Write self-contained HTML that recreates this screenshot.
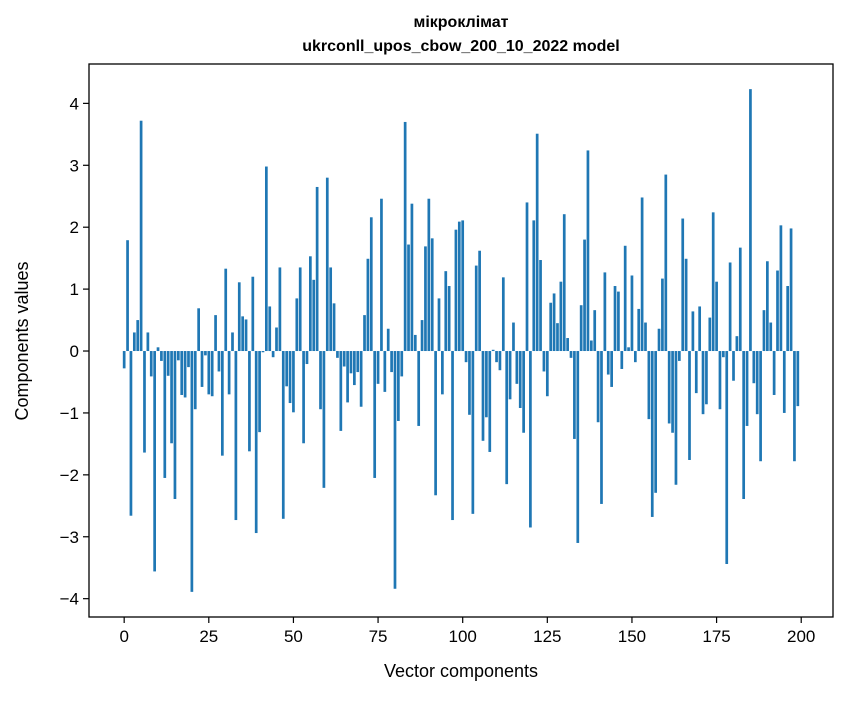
<!DOCTYPE html>
<html><head><meta charset="utf-8"><style>
body{margin:0;background:#fff;}
svg text{font-family:"Liberation Sans","DejaVu Sans",sans-serif;fill:#000;}
</style></head><body>
<svg id="chart" width="847" height="696" viewBox="0 0 847 696" xmlns="http://www.w3.org/2000/svg">
<rect width="847" height="696" fill="#fff"/>
<text x="461" y="27" text-anchor="middle" font-size="16" font-weight="bold">мікроклімат</text>
<text x="461" y="51" text-anchor="middle" font-size="16" font-weight="bold">ukrconll_upos_cbow_200_10_2022 model</text>
<g id="bars"></g>
<g id="axes"></g>
<text x="461" y="677" text-anchor="middle" font-size="18">Vector components</text>
<text x="28" y="341" text-anchor="middle" font-size="18" transform="rotate(-90 28 341)">Components values</text>
</svg>
<script>
const values = [-0.28,1.79,-2.66,0.30,0.50,3.72,-1.64,0.30,-0.41,-3.56,
0.06,-0.16,-2.05,-0.40,-1.49,-2.39,-0.15,-0.71,-0.75,-0.26,
-3.89,-0.94,0.69,-0.58,-0.07,-0.70,-0.73,0.58,-0.33,-1.69,
1.33,-0.70,0.30,-2.73,1.11,0.56,0.51,-1.62,1.20,-2.94,
-1.31,-0.02,2.98,0.72,-0.10,0.38,1.35,-2.71,-0.57,-0.84,
-0.99,0.85,1.35,-1.49,-0.21,1.53,1.15,2.65,-0.94,-2.21,
2.80,1.35,0.77,-0.11,-1.29,-0.25,-0.83,-0.36,-0.55,-0.34,
-0.90,0.58,1.49,2.16,-2.05,-0.53,2.46,-0.66,0.36,-0.34,
-3.84,-1.13,-0.41,3.70,1.72,2.38,0.26,-1.21,0.50,1.69,
2.46,1.82,-2.33,0.85,-0.70,1.29,1.05,-2.73,1.96,2.09,
2.11,-0.18,-1.03,-2.63,1.38,1.62,-1.45,-1.07,-1.63,0.02,
-0.18,-0.31,1.19,-2.15,-0.78,0.46,-0.53,-0.92,-1.32,2.40,
-2.85,2.11,3.51,1.47,-0.33,-0.73,0.78,0.93,0.45,1.12,
2.21,0.21,-0.11,-1.42,-3.10,0.74,1.80,3.24,0.17,0.66,
-1.15,-2.47,1.27,-0.38,-0.58,1.05,0.96,-0.29,1.70,0.06,
1.22,-0.18,0.68,2.48,0.46,-1.10,-2.68,-2.29,0.36,1.17,
2.85,-1.17,-1.32,-2.16,-0.16,2.14,1.49,-1.76,0.64,-0.68,
0.72,-1.02,-0.86,0.54,2.24,1.12,-0.94,-0.10,-3.44,1.43,
-0.48,0.24,1.67,-2.39,-1.21,4.23,-0.52,-1.02,-1.78,0.66,
1.45,0.46,-0.71,1.30,2.03,-1.00,1.05,1.98,-1.78,-0.89];
const xTicks = [0,25,50,75,100,125,150,175,200];
const yTicks = [-4,-3,-2,-1,0,1,2,3,4];

const NS="http://www.w3.org/2000/svg";
const L=89,R=833,T=64,B=617;
const n=values.length;
const xmin=-0.4, xmax=n-1+0.4, xpad=(xmax-xmin)*0.05;
const ymn=Math.min(...values), ymx=Math.max(...values), ypad=(ymx-ymn)*0.05;
const x0=xmin-xpad, x1=xmax+xpad, y0=ymn-ypad, y1=ymx+ypad;
const sx=v=>L+(v-x0)/(x1-x0)*(R-L);
const sy=v=>B-(v-y0)/(y1-y0)*(B-T);
function mk(tag,attrs,parent){const e=document.createElementNS(NS,tag);for(const k in attrs)e.setAttribute(k,attrs[k]);parent.appendChild(e);return e;}
const bars=document.getElementById('bars');
values.forEach((v,i)=>{
  const a=sx(i-0.4), b=sx(i+0.4);
  const ya=sy(Math.max(v,0)), yb=sy(Math.min(v,0));
  const r=mk('rect',{x:a,y:ya,width:b-a,height:Math.max(yb-ya,0.01),fill:'#1f77b4'},bars);
  
  
});
const ax=document.getElementById('axes');
const fr=mk('rect',{x:L,y:T,width:R-L,height:B-T,fill:'none',stroke:'#000','stroke-width':1.3},ax);


xTicks.forEach(t=>{
  const x=sx(t);
  const l=mk('line',{x1:x,x2:x,y1:B,y2:B+6,stroke:'#000','stroke-width':1.2},ax);
  
  
  const tx=mk('text',{x:x,y:B+25,'text-anchor':'middle','font-size':'17'},ax);
  tx.textContent=String(t);
  
  
});
yTicks.forEach(t=>{
  const y=sy(t);
  const l=mk('line',{x1:L-6,x2:L,y1:y,y2:y,stroke:'#000','stroke-width':1.2},ax);
  
  
  const tx=mk('text',{x:L-10,y:y+6,'text-anchor':'end','font-size':'17'},ax);
  tx.textContent=t<0?'\u2212'+Math.abs(t):String(t);
  
  
});
</script>
</body></html>
